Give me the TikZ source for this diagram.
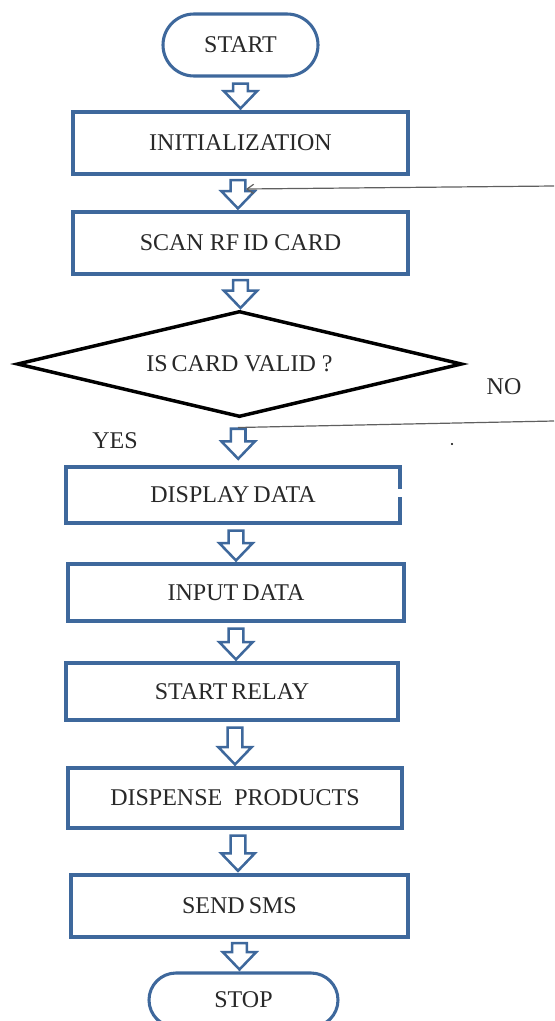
\documentclass[tikz,border=0pt]{standalone}
\usepackage{fontspec}
\setmainfont{Liberation Serif}
\usetikzlibrary{shapes.geometric,calc,arrows.meta}

\definecolor{flowblue}{RGB}{62,104,156}
\definecolor{flowtext}{RGB}{40,40,40}
\definecolor{loopgray}{RGB}{95,95,95}

\tikzset{
  every node/.style={font=\fontsize{18}{20}\selectfont, text=flowtext},
  procbox/.style={draw=flowblue, line width=2.3pt, fill=white, rectangle, inner sep=0pt},
  terminal/.style={draw=flowblue, line width=2.3pt, fill=white, rectangle, rounded corners=20pt, inner sep=0pt},
  decision/.style={draw=black, line width=2.6pt, fill=white, diamond, aspect=4.2, inner sep=0pt},
  blockarrow/.style={draw=flowblue, line width=1.9pt, fill=white, line join=miter},
  loopline/.style={draw=loopgray, line width=0.9pt},
  plain/.style={inner sep=0pt}
}

% hollow block arrow from the bottom of #1 to the top of #2
% #3 = gap below #1, #4 = gap above #2, #5 = sideways shift of the arrow
\newcommand\flowarrow[5]{%
  \draw[blockarrow] let \p1=(#1.south), \p2=(#2.north), \n1={#5} in
    (\x1+\n1-5.5pt,\y1-#3) -- (\x1+\n1+5.5pt,\y1-#3) -- (\x1+\n1+5.5pt,\y2+#4+13pt)
    -- (\x1+\n1+12.5pt,\y2+#4+13pt) -- (\x1+\n1,\y2+#4) -- (\x1+\n1-12.5pt,\y2+#4+13pt)
    -- (\x1+\n1-5.5pt,\y2+#4+13pt) -- cycle;}

\begin{document}
\begin{tikzpicture}[x=0.75pt, y=-0.75pt]
\useasboundingbox (0,0) rectangle (554,1021);
\clip (0,0) rectangle (554,1021);

% terminals and process steps
\node[terminal, minimum width=116.25pt, minimum height=46.5pt, rounded corners=23.25pt] (start) at (240.5,45) {START};
\node[procbox, minimum width=251.25pt, minimum height=46.5pt] (init) at (240.5,143) {INITIALIZATION};
\node[procbox, minimum width=251.25pt, minimum height=46.5pt] (scan) at (240.5,243) {SCAN\ RF\,ID CARD};
\node[decision, minimum width=333.75pt, minimum height=79.5pt] (valid) at (239.5,364) {IS\,CARD VALID ?};
\node[procbox, minimum width=250.5pt, minimum height=42pt] (disp) at (233,495) {DISPLAY\,DATA};
\node[procbox, minimum width=252pt, minimum height=42.75pt] (input) at (236,592.5) {INPUT\,DATA};
\node[procbox, minimum width=249pt, minimum height=42.75pt] (relay) at (232,691.5) {START\,RELAY};
\node[procbox, minimum width=250.5pt, minimum height=45pt] (dispense) at (235,798) {DISPENSE\ \ PRODUCTS};
\node[procbox, minimum width=252.75pt, minimum height=46.5pt] (sms) at (239.5,906) {SEND\,SMS};
\node[terminal, minimum width=141.75pt, minimum height=40.5pt, rounded corners=20.25pt] (stop) at (243.5,1000) {STOP};

% small break in the right edge of the display box
\fill[white] (397,489) rectangle (404,497);

% branch labels
\node[plain] (yes) at (115,441) {YES};
\node[plain] (no) at (504,387) {NO};

% block arrows between steps
\flowarrow{start}{init}{4.5pt}{1.5pt}{0pt}
\flowarrow{init}{scan}{3.5pt}{1.5pt}{-1.9pt}
\flowarrow{scan}{valid}{3.5pt}{1pt}{0pt}
\flowarrow{valid}{disp}{7.5pt}{5pt}{-1pt}
\flowarrow{disp}{input}{4.5pt}{1.5pt}{2.25pt}
\flowarrow{input}{relay}{4.5pt}{1.5pt}{0pt}
\flowarrow{relay}{dispense}{4.5pt}{1.5pt}{2.25pt}
\flowarrow{dispense}{sms}{4.5pt}{2pt}{2.25pt}
\flowarrow{sms}{stop}{3.5pt}{1.5pt}{0pt}

% return lines of the NO branch
\coordinate (loopA) at (554,186);
\coordinate (loopAin) at (246,189);
\coordinate (loopB) at (554,421);
\coordinate (loopBin) at (238,427.5);
\draw[loopline, -{Straight Barb[length=5pt,width=7pt]}] (loopA) -- (loopAin);
\draw[loopline] (loopB) -- (loopBin);

% stray dot
\fill[black] (452,444) circle (0.8pt);
\end{tikzpicture}
\end{document}
